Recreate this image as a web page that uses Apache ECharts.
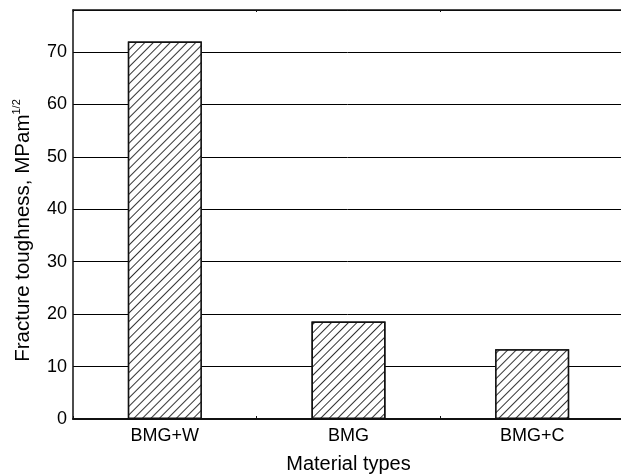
<!DOCTYPE html>
<html>
<head>
<meta charset="utf-8">
<script src="https://cdn.jsdelivr.net/npm/echarts@6/dist/echarts.min.js"></script>
<style>html,body{margin:0;padding:0;background:#fff;}#c{width:621px;height:476px;}</style>
</head>
<body>
<div id="c"></div>
<script>
const categories = ['BMG+W', 'BMG', 'BMG+C'];
const toughness = [72, 18.6, 13.3];
const yTickLabels = [0, 10, 20, 30, 40, 50, 60, 70];
const xAxisTitle = 'Material types';
const yAxisTitle = 'Fracture toughness, MPam';
const yAxisTitleSup = '1/2';

const FONT = "'Liberation Sans', Arial, Helvetica, sans-serif";
const chart = echarts.init(document.getElementById('c'), null, { renderer: 'canvas' });
chart.setOption({
  animation: false,
  backgroundColor: '#fff',
  grid: { left: 73, right: -3, top: 10, bottom: 57, show: false, outerBoundsMode: 'none', containLabel: false },
  xAxis: [{
    type: 'category',
    data: categories,
    position: 'bottom',
    axisLine: { lineStyle: { color: '#111', width: 2 } },
    axisTick: { show: true, inside: true, length: 3, lineStyle: { color: '#111' } },
    axisLabel: { color: '#000', fontSize: 18, fontFamily: FONT, margin: 8 },
    name: xAxisTitle,
    nameLocation: 'middle',
    nameGap: 35,
    nameTextStyle: { color: '#000', fontSize: 20, fontFamily: FONT }
  }, {
    type: 'category',
    data: categories,
    position: 'top',
    axisLine: { lineStyle: { color: '#111', width: 1.5 } },
    axisTick: { show: true, inside: true, length: 2, lineStyle: { color: '#111' } },
    axisLabel: { show: false }
  }],
  yAxis: {
    type: 'value',
    min: 0,
    max: 78,
    interval: 10,
    axisLine: { show: true, lineStyle: { color: '#111', width: 1.5 } },
    axisTick: { show: false },
    splitLine: { show: true, lineStyle: { color: '#000', width: 1 } },
    axisLabel: {
      color: '#000', fontSize: 18, fontFamily: FONT, margin: 6,
      formatter: v => yTickLabels.indexOf(v) >= 0 ? String(v) : ''
    },
    name: '{m|' + yAxisTitle + '}{s|' + yAxisTitleSup + '}',
    nameLocation: 'middle',
    nameGap: 37,
    nameTextStyle: {
      color: '#000', fontFamily: FONT,
      padding: [0, 32, 0, 0],
      rich: {
        m: { fontSize: 20.5, fontFamily: FONT, color: '#000', lineHeight: 25 },
        s: { fontSize: 11, fontFamily: FONT, color: '#000', verticalAlign: 'top', lineHeight: 25 }
      }
    }
  },
  series: [{
    type: 'bar',
    data: toughness,
    barWidth: 74,
    itemStyle: {
      color: '#fff',
      borderColor: '#111',
      borderWidth: 1.5,
      decal: {
        symbol: 'rect',
        symbolSize: 1,
        dashArrayX: [1, 0],
        dashArrayY: [1, 4.2],
        rotation: -Math.PI / 4,
        color: '#333',
        backgroundColor: '#fff'
      }
    }
  }]
});
</script>
</body>
</html>
